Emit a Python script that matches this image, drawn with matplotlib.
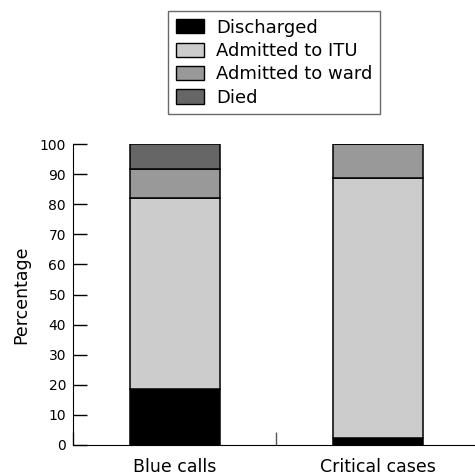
import matplotlib
matplotlib.use("Agg")
import matplotlib.pyplot as plt
from matplotlib.patches import Patch
import numpy as np

groups = ["Blue calls", "Critical cases"]
outcomes = ["Discharged", "Admitted to ITU", "Admitted to ward", "Died"]
discharged = [18.5, 2.2]
admitted_itu = [63.7, 86.6]
admitted_ward = [9.5, 11.2]
died = [8.3, 0.0]
colours = ["#000000", "#cccccc", "#999999", "#666666"]

plt.rcParams['font.family'] = ['DejaVu Sans']

fig = plt.figure(figsize=(4.75, 4.74), dpi=100)
ax = fig.add_axes([73/475, 1 - 445/474, 1 - 73/475, (445 - 144)/474])

x = np.arange(len(groups))
bottom = np.zeros(len(groups))
for vals, col in zip([discharged, admitted_itu, admitted_ward, died], colours):
    ax.bar(x, vals, width=0.443, bottom=bottom, color=col,
           edgecolor="black", linewidth=1.1)
    bottom += np.array(vals)

ax.set_xlim(-0.5, 1.478)
ax.set_ylim(0, 100)
ax.set_yticks(np.arange(0, 101, 10))
ax.set_xticks(x)
ax.set_xticklabels(groups, fontsize=12.5)
ax.set_xticks([-0.5, 0.5], minor=True)
ax.tick_params(axis="x", which="major", length=0, pad=9)
ax.tick_params(axis="x", which="minor", direction="in", length=9.5,
               color="#555555", width=1)
ax.tick_params(axis="y", direction="in", length=10, width=1, labelsize=10, pad=5)
ax.set_ylabel("Percentage", fontsize=12.5, labelpad=7)

for s in ["top", "right"]:
    ax.spines[s].set_visible(False)

handles = [Patch(facecolor=c, edgecolor="black", label=l)
           for c, l in zip(colours, outcomes)]
leg = fig.legend(handles=handles, loc="upper left",
                 bbox_to_anchor=(168/475, 1 - 11/474), fontsize=13,
                 frameon=True, fancybox=False, edgecolor="#444444",
                 handlelength=1.6, handleheight=0.83, handletextpad=0.65,
                 labelspacing=0.3, borderpad=0.42, borderaxespad=0)
leg.get_frame().set_linewidth(1.0)

fig.savefig("out.png", dpi=100)
